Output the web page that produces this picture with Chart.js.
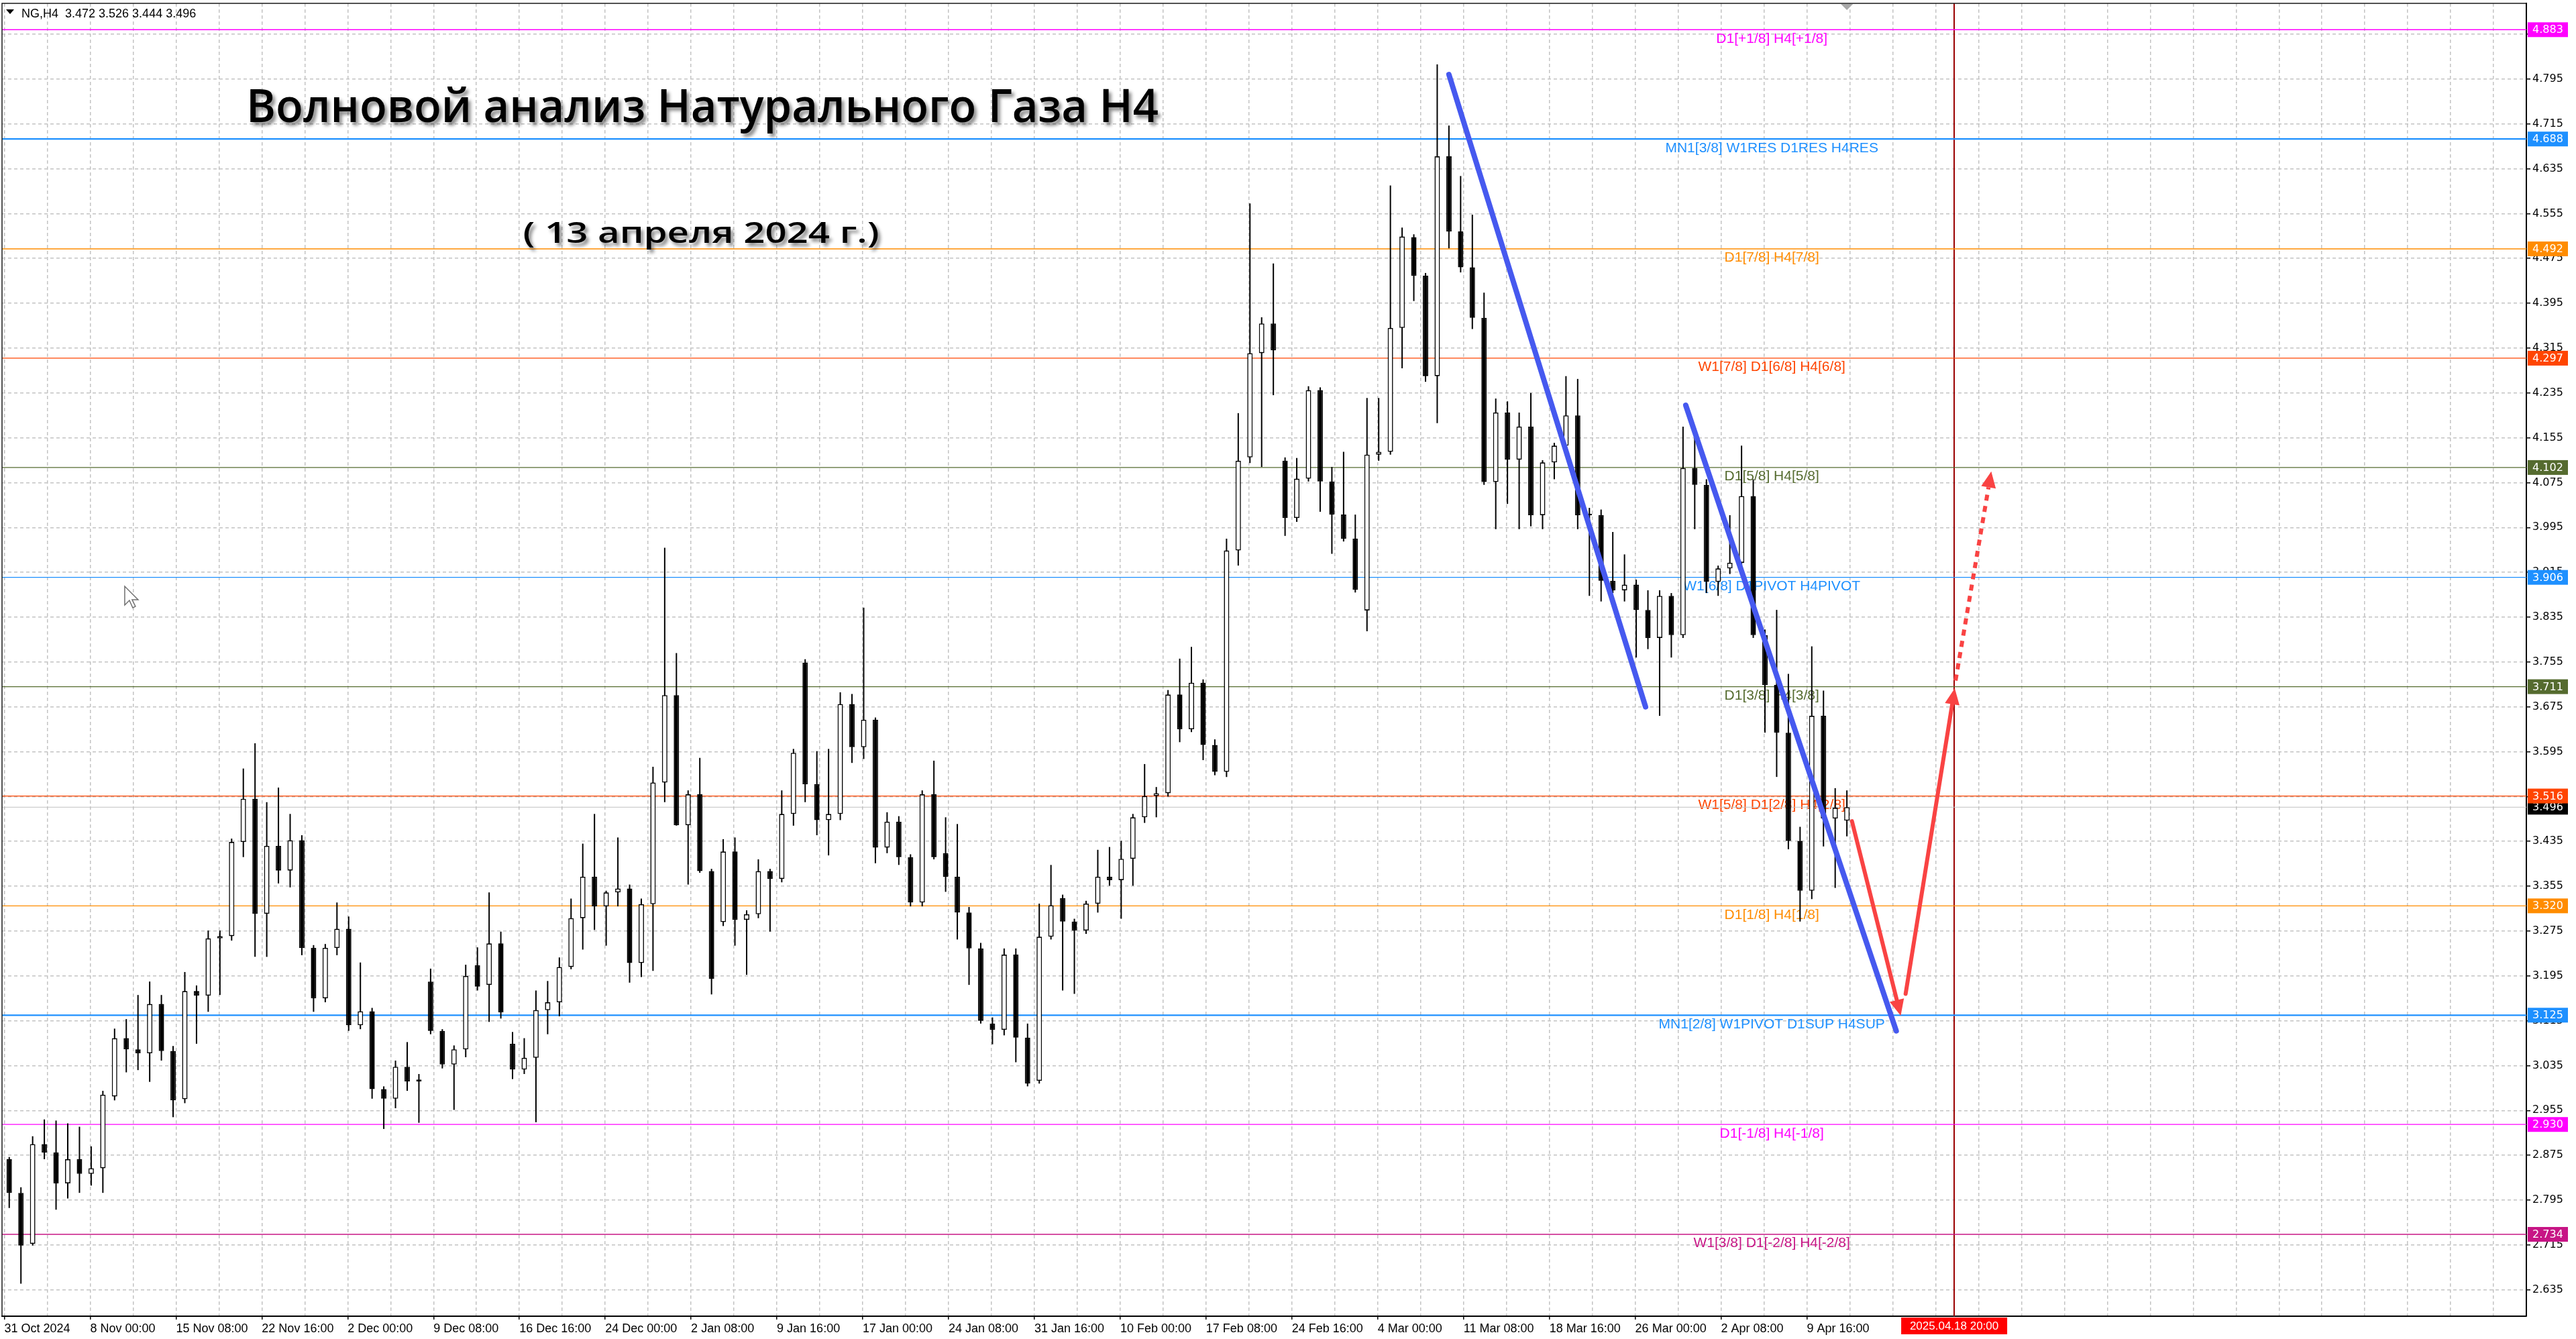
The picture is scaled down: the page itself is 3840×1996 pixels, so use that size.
<!DOCTYPE html>
<html lang="ru">
<head>
<meta charset="utf-8">
<title>NG,H4 — волновой анализ</title>
<script src="https://cdn.jsdelivr.net/npm/chart.js@4.4.1/dist/chart.umd.min.js"></script>
<style>
  html, body { margin: 0; padding: 0; background: #ffffff; }
  #wrap { width: 3840px; height: 1996px; }
</style>
</head>
<body>
<div id="wrap"><canvas id="chart" width="3840" height="1996"></canvas></div>
<script>
// NG,H4 — свечи сгруппированы по 6 баров H4 (≈ один торговый день)

const OPEN = [
  2.868, 2.808, 2.717, 2.895, 2.880, 2.825, 2.868, 2.842, 2.852, 2.980,
  3.084, 3.064, 3.057, 3.145, 3.061, 2.975, 3.168, 3.160, 3.262, 3.266,
  3.434, 3.511, 3.306, 3.427, 3.383, 3.437, 3.245, 3.155, 3.245, 3.279,
  3.107, 3.132, 2.993, 2.976, 3.033, 3.007, 3.185, 3.097, 3.037, 3.064,
  3.214, 3.179, 3.253, 3.074, 3.028, 3.049, 3.134, 3.148, 3.211, 3.298,
  3.372, 3.319, 3.344, 3.351, 3.218, 3.323, 3.540, 3.696, 3.464, 3.519,
  3.382, 3.291, 3.417, 3.295, 3.305, 3.382, 3.368, 3.484, 3.754, 3.537,
  3.473, 3.484, 3.680, 3.603, 3.652, 3.424, 3.470, 3.407, 3.326, 3.519,
  3.414, 3.372, 3.308, 3.244, 3.110, 3.099, 3.233, 3.085, 3.008, 3.265,
  3.334, 3.292, 3.276, 3.324, 3.372, 3.366, 3.404, 3.478, 3.516, 3.521,
  3.697, 3.635, 3.718, 3.607, 3.559, 3.954, 4.120, 4.306, 4.359, 4.114,
  4.012, 4.082, 4.240, 4.077, 4.018, 3.975, 3.847, 4.125, 4.130, 4.351,
  4.513, 4.444, 4.265, 4.657, 4.523, 4.459, 4.369, 4.076, 4.200, 4.116,
  4.175, 4.017, 4.111, 4.141, 4.195, 4.017, 4.017, 3.900, 3.883, 3.893,
  3.848, 3.798, 3.873, 3.803, 4.101, 4.071, 3.898, 3.922, 3.932, 4.051,
  3.803, 3.714, 3.629, 3.436, 3.347, 3.659, 3.476, 3.472
];
const HIGH = [
  2.872, 2.818, 2.909, 2.939, 2.937, 2.932, 2.926, 2.891, 2.990, 3.101,
  3.118, 3.161, 3.185, 3.161, 3.070, 3.202, 3.178, 3.276, 3.276, 3.440,
  3.565, 3.610, 3.505, 3.531, 3.484, 3.446, 3.250, 3.252, 3.326, 3.301,
  3.219, 3.138, 2.998, 3.044, 3.077, 3.020, 3.208, 3.100, 3.071, 3.215,
  3.246, 3.344, 3.274, 3.095, 3.084, 3.169, 3.186, 3.228, 3.333, 3.431,
  3.484, 3.347, 3.442, 3.358, 3.333, 3.568, 3.959, 3.771, 3.526, 3.584,
  3.386, 3.439, 3.442, 3.312, 3.403, 3.386, 3.526, 3.600, 3.760, 3.596,
  3.600, 3.701, 3.698, 3.852, 3.656, 3.487, 3.480, 3.412, 3.526, 3.579,
  3.478, 3.466, 3.318, 3.254, 3.121, 3.244, 3.244, 3.110, 3.324, 3.393,
  3.340, 3.297, 3.329, 3.420, 3.425, 3.436, 3.484, 3.573, 3.532, 3.705,
  3.761, 3.782, 3.724, 3.617, 3.975, 4.199, 4.573, 4.370, 4.466, 4.120,
  4.119, 4.247, 4.245, 4.103, 4.130, 4.018, 4.226, 4.226, 4.605, 4.530,
  4.518, 4.449, 4.821, 4.712, 4.622, 4.553, 4.414, 4.225, 4.220, 4.200,
  4.235, 4.115, 4.146, 4.265, 4.260, 4.030, 4.027, 3.987, 3.947, 3.902,
  3.883, 3.883, 3.878, 4.175, 4.175, 4.081, 3.927, 4.017, 4.141, 4.081,
  3.813, 3.848, 3.734, 3.461, 3.783, 3.704, 3.530, 3.526
];
const LOW = [
  2.781, 2.646, 2.714, 2.868, 2.778, 2.798, 2.808, 2.821, 2.808, 2.973,
  3.023, 3.027, 3.006, 3.044, 2.943, 2.968, 3.074, 3.131, 3.161, 3.258,
  3.407, 3.229, 3.229, 3.360, 3.353, 3.232, 3.131, 3.148, 3.232, 3.097,
  3.100, 2.976, 2.922, 2.959, 2.990, 2.933, 3.091, 3.030, 2.956, 3.050,
  3.169, 3.113, 3.119, 3.011, 3.020, 2.934, 3.091, 3.123, 3.207, 3.242,
  3.277, 3.249, 3.319, 3.183, 3.193, 3.204, 3.505, 3.463, 3.358, 3.379,
  3.162, 3.284, 3.249, 3.197, 3.298, 3.274, 3.362, 3.463, 3.505, 3.446,
  3.410, 3.473, 3.575, 3.582, 3.396, 3.414, 3.393, 3.319, 3.319, 3.403,
  3.345, 3.260, 3.179, 3.110, 3.073, 3.089, 3.041, 2.998, 3.003, 3.260,
  3.169, 3.163, 3.270, 3.308, 3.356, 3.297, 3.356, 3.468, 3.478, 3.515,
  3.612, 3.630, 3.580, 3.553, 3.550, 3.927, 4.110, 4.103, 4.231, 3.980,
  4.005, 4.077, 4.023, 3.948, 3.970, 3.879, 3.810, 4.114, 4.125, 4.279,
  4.399, 4.255, 4.181, 4.493, 4.450, 4.349, 4.071, 3.992, 4.037, 3.992,
  3.997, 3.992, 4.081, 4.131, 3.992, 3.873, 3.863, 3.878, 3.863, 3.763,
  3.778, 3.659, 3.763, 3.798, 3.992, 3.878, 3.873, 3.912, 3.907, 3.798,
  3.629, 3.550, 3.421, 3.292, 3.332, 3.426, 3.352, 3.444
];
const CLOSE = [
  2.808, 2.714, 2.895, 2.880, 2.825, 2.868, 2.842, 2.852, 2.983, 3.084,
  3.064, 3.057, 3.145, 3.061, 2.973, 3.168, 3.160, 3.262, 3.266, 3.434,
  3.511, 3.306, 3.427, 3.383, 3.437, 3.245, 3.155, 3.245, 3.279, 3.107,
  3.132, 2.993, 2.976, 3.033, 3.007, 3.010, 3.097, 3.037, 3.064, 3.195,
  3.176, 3.253, 3.130, 3.028, 3.049, 3.134, 3.148, 3.211, 3.298, 3.372,
  3.319, 3.344, 3.351, 3.218, 3.323, 3.540, 3.696, 3.464, 3.519, 3.382,
  3.190, 3.417, 3.295, 3.305, 3.382, 3.368, 3.484, 3.593, 3.537, 3.473,
  3.484, 3.680, 3.603, 3.652, 3.424, 3.470, 3.407, 3.326, 3.519, 3.407,
  3.372, 3.308, 3.244, 3.115, 3.099, 3.233, 3.085, 3.003, 3.265, 3.321,
  3.292, 3.276, 3.324, 3.372, 3.366, 3.404, 3.478, 3.516, 3.521, 3.697,
  3.635, 3.718, 3.607, 3.559, 3.954, 4.114, 4.306, 4.359, 4.311, 4.012,
  4.082, 4.240, 4.077, 4.018, 3.975, 3.884, 4.125, 4.130, 4.351, 4.514,
  4.444, 4.265, 4.657, 4.523, 4.459, 4.369, 4.076, 4.200, 4.116, 4.175,
  4.017, 4.111, 4.141, 4.195, 4.017, 4.017, 3.900, 3.883, 3.893, 3.848,
  3.798, 3.873, 3.803, 4.101, 4.071, 3.898, 3.922, 3.932, 4.051, 3.803,
  3.714, 3.629, 3.436, 3.347, 3.659, 3.476, 3.495, 3.496
];
const BARS_PER_CANDLE = 6;   // одна свеча на графике = 6 баров H4

// подписи оси времени (через каждые 44 бара H4)
const X_LABELS = [
  "31 Oct 2024", "8 Nov 00:00", "15 Nov 08:00", "22 Nov 16:00", "2 Dec 00:00", "9 Dec 08:00",
  "16 Dec 16:00", "24 Dec 00:00", "2 Jan 08:00", "9 Jan 16:00", "17 Jan 00:00", "24 Jan 08:00",
  "31 Jan 16:00", "10 Feb 00:00", "17 Feb 08:00", "24 Feb 16:00", "4 Mar 00:00", "11 Mar 08:00",
  "18 Mar 16:00", "26 Mar 00:00", "2 Apr 08:00", "9 Apr 16:00"
];
const X_LABEL_STEP = 44;
const X_GRID_STEP = 22;

const Y_TICKS = [
  2.635, 2.715, 2.795, 2.875, 2.955, 3.035, 3.115, 3.195, 3.275, 3.355,
  3.435, 3.515, 3.595, 3.675, 3.755, 3.835, 3.915, 3.995, 4.075, 4.155,
  4.235, 4.315, 4.395, 4.475, 4.555, 4.635, 4.715, 4.795, 4.875
];

// уровни Мюррея
const LEVELS = [4.883, 4.688, 4.492, 4.297, 4.102, 3.906, 3.711, 3.516, 3.320, 3.125, 2.930, 2.734];
const LEVEL_NAMES = [
  "D1[+1/8] H4[+1/8]",
  "MN1[3/8] W1RES D1RES H4RES",
  "D1[7/8] H4[7/8]",
  "W1[7/8] D1[6/8] H4[6/8]",
  "D1[5/8] H4[5/8]",
  "W1[6/8] D1PIVOT H4PIVOT",
  "D1[3/8] H4[3/8]",
  "W1[5/8] D1[2/8] H4[2/8]",
  "D1[1/8] H4[1/8]",
  "MN1[2/8] W1PIVOT D1SUP H4SUP",
  "D1[-1/8] H4[-1/8]",
  "W1[3/8] D1[-2/8] H4[-2/8]"
];
const LAST_PRICE = 3.496;
const LEVEL_LABEL_BAR = 906;

// разметка: синие волновые линии и красный прогноз [бар1, цена1, бар2, цена2]
const WAVE_LINES = [
  [740.5, 4.803, 841.3, 3.675],
  [861.9, 4.213, 969.8, 3.097]
];
const FORECAST = [
  [947.1, 3.471, 972.1, 3.124],
  [974.6, 3.163, 999.8, 3.708]
];
const FORECAST_DOTTED = [1000.2, 3.722, 1018.5, 4.095];
const CURSOR_BAR = 999.5;
const CURSOR_LABEL = "2025.04.18 20:00";
const MOUSE_AT = [61.7, 3.890];

const TITLE = "Волновой анализ Натурального Газа H4";
const SUBTITLE = "( 13 апреля 2024 г.)";
const SYMBOL = "NG,H4";

// ── стиль ─────────────────────────────────────────
const X_MIN = -1.2, X_MAX = 1292.8;
const Y_MIN = 2.588, Y_MAX = 4.930;
const GRID = "#c3c3c3";
const LEVEL_COLORS = ["#ff00ff", "#1e90ff", "#ff8c00", "#ff4500", "#556b2f", "#1e90ff",
                      "#556b2f", "#ff4500", "#ff8c00", "#1e90ff", "#ff00ff", "#c71585"];
const LEVEL_WIDTHS = [1.3, 2.2, 1.3, 1.3, 1.3, 1.3, 1.3, 1.3, 1.3, 2.2, 1.3, 1.6];
const BLUE = "#4659ef";
const RED = "#f94343";

const candleX = OPEN.map((_, i) => i * BARS_PER_CANDLE + 2.5);

const xTicks = [];
for (let v = 0; v <= X_MAX; v += X_GRID_STEP) xTicks.push(v);
const xLabelAt = (v) => (v % X_LABEL_STEP === 0 && v / X_LABEL_STEP < X_LABELS.length) ? X_LABELS[v / X_LABEL_STEP] : "";

const datasets = [];

LEVELS.forEach((v, i) => datasets.push({
  type: "line",
  data: [{ x: X_MIN, y: v }, { x: X_MAX, y: v }],
  borderColor: LEVEL_COLORS[i],
  borderWidth: LEVEL_WIDTHS[i],
  pointRadius: 0,
  order: 6,
}));
datasets.push({
  type: "line",
  data: [{ x: X_MIN, y: LAST_PRICE }, { x: X_MAX, y: LAST_PRICE }],
  borderColor: "#c0c0c0",
  borderWidth: 1.2,
  pointRadius: 0,
  order: 7,
});

// фитили
datasets.push({
  type: "bar",
  data: candleX.map((x, i) => ({ x, y: [LOW[i], HIGH[i]] })),
  backgroundColor: "#000000",
  borderWidth: 0,
  grouped: false,
  maxBarThickness: 2,
  order: 4,
});
// тела
datasets.push({
  type: "bar",
  data: candleX.map((x, i) => ({ x, y: [OPEN[i], CLOSE[i]] })),
  backgroundColor: (c) => CLOSE[c.dataIndex] >= OPEN[c.dataIndex] ? "#ffffff" : "#000000",
  borderColor: "#000000",
  borderWidth: 1.6,
  borderSkipped: false,
  grouped: false,
  maxBarThickness: 8,
  minBarLength: 2,
  order: 3,
});

WAVE_LINES.forEach((l) => datasets.push({
  type: "line",
  data: [{ x: l[0], y: l[1] }, { x: l[2], y: l[3] }],
  borderColor: BLUE,
  borderWidth: 8,
  borderCapStyle: "round",
  pointRadius: 0,
  order: 1,
}));

function drawArrow(ctx, x1, y1, x2, y2, dashed) {
  const ang = Math.atan2(y2 - y1, x2 - x1);
  const headLen = 24, half = 11;
  const bx = x2 - headLen * Math.cos(ang), by = y2 - headLen * Math.sin(ang);
  ctx.strokeStyle = RED;
  ctx.fillStyle = RED;
  ctx.lineWidth = 6;
  ctx.lineCap = dashed ? "butt" : "round";
  ctx.setLineDash(dashed ? [9, 8] : []);
  ctx.beginPath();
  ctx.moveTo(x1, y1);
  ctx.lineTo(bx, by);
  ctx.stroke();
  ctx.setLineDash([]);
  ctx.beginPath();
  ctx.moveTo(x2, y2);
  ctx.lineTo(bx + half * Math.sin(ang), by - half * Math.cos(ang));
  ctx.lineTo(bx - half * Math.sin(ang), by + half * Math.cos(ang));
  ctx.closePath();
  ctx.fill();
}

function fitText(ctx, text, cx, baseline, width) {
  const w = ctx.measureText(text).width;
  ctx.save();
  ctx.translate(cx, baseline);
  ctx.scale(width / w, 1);
  ctx.textAlign = "center";
  ctx.textBaseline = "alphabetic";
  ctx.fillText(text, 0, 0);
  ctx.restore();
}

const overlay = {
  id: "ngOverlay",
  beforeDatasetsDraw(chart) {
    const { ctx, chartArea: a, scales: { x, y } } = chart;
    ctx.save();
    // подписи уровней
    ctx.font = '21px "Liberation Sans", Arial, sans-serif';
    ctx.textAlign = "center";
    ctx.textBaseline = "top";
    const lx = x.getPixelForValue(LEVEL_LABEL_BAR);
    LEVELS.forEach((v, i) => {
      ctx.fillStyle = LEVEL_COLORS[i];
      ctx.fillText(LEVEL_NAMES[i], lx, y.getPixelForValue(v) + 3);
    });
    // вертикальная линия курсора
    const cx = Math.round(x.getPixelForValue(CURSOR_BAR));
    ctx.strokeStyle = "#9a0000";
    ctx.lineWidth = 2;
    ctx.beginPath();
    ctx.moveTo(cx, a.top);
    ctx.lineTo(cx, a.bottom);
    ctx.stroke();
    ctx.restore();
  },
  afterDatasetsDraw(chart) {
    const { ctx, scales: { x, y } } = chart;
    ctx.save();
    FORECAST.forEach((f) => drawArrow(ctx, x.getPixelForValue(f[0]), y.getPixelForValue(f[1]),
      x.getPixelForValue(f[2]), y.getPixelForValue(f[3]), false));
    const d = FORECAST_DOTTED;
    drawArrow(ctx, x.getPixelForValue(d[0]), y.getPixelForValue(d[1]),
      x.getPixelForValue(d[2]), y.getPixelForValue(d[3]), true);
    ctx.restore();
  },
  afterDraw(chart) {
    const { ctx, chartArea: a, scales: { x, y } } = chart;
    ctx.save();

    // рамка сверху и слева
    ctx.strokeStyle = "#1a1a1a";
    ctx.lineWidth = 1.5;
    ctx.beginPath();
    ctx.moveTo(a.left, a.bottom);
    ctx.lineTo(a.left, a.top);
    ctx.lineTo(a.right, a.top);
    ctx.stroke();

    // метка сдвига графика
    const sx = x.getPixelForValue(candleX[candleX.length - 1]);
    ctx.fillStyle = "#a8a8a8";
    ctx.beginPath();
    ctx.moveTo(sx - 9, a.top + 1);
    ctx.lineTo(sx + 9, a.top + 1);
    ctx.lineTo(sx, a.top + 10);
    ctx.closePath();
    ctx.fill();

    // плашки цен на правой шкале
    ctx.font = '16px "DejaVu Sans", Verdana, sans-serif';
    ctx.textAlign = "left";
    ctx.textBaseline = "middle";
    const box = (v, color) => {
      const py = y.getPixelForValue(v);
      ctx.fillStyle = color;
      ctx.fillRect(a.right + 2, py - 11, 60, 22);
      ctx.fillStyle = "#ffffff";
      ctx.fillText(v.toFixed(3), a.right + 9, py + 1);
    };
    box(LAST_PRICE, "#000000");
    LEVELS.forEach((v, i) => box(v, LEVEL_COLORS[i]));

    // дата курсора
    const cx = x.getPixelForValue(CURSOR_BAR);
    ctx.fillStyle = "#ff0000";
    ctx.fillRect(cx - 79, a.bottom + 2, 158, 25);
    ctx.fillStyle = "#ffffff";
    ctx.font = '17px "Liberation Sans", Arial, sans-serif';
    ctx.textAlign = "center";
    ctx.fillText(CURSOR_LABEL, cx, a.bottom + 15);

    // заголовок окна
    ctx.fillStyle = "#000000";
    ctx.beginPath();
    ctx.moveTo(9, 14);
    ctx.lineTo(21, 14);
    ctx.lineTo(15, 21);
    ctx.closePath();
    ctx.fill();
    ctx.font = '18px "Liberation Sans", Arial, sans-serif';
    ctx.textAlign = "left";
    ctx.textBaseline = "alphabetic";
    const last = OPEN.length - 1;
    const ohlc = [OPEN[last], HIGH[last], LOW[last], CLOSE[last]].map((v) => v.toFixed(3)).join(" ");
    ctx.fillText(SYMBOL + "  " + ohlc, 32, 26);

    // курсор мыши
    const mx = x.getPixelForValue(MOUSE_AT[0]), my = y.getPixelForValue(MOUSE_AT[1]);
    const pts = [[0, 0], [0, 28], [7, 21], [12, 32], [16, 30], [11, 20], [20, 20]];
    ctx.beginPath();
    pts.forEach((p, i) => (i ? ctx.lineTo(mx + p[0], my + p[1]) : ctx.moveTo(mx + p[0], my + p[1])));
    ctx.closePath();
    ctx.fillStyle = "#ffffff";
    ctx.fill();
    ctx.strokeStyle = "#707070";
    ctx.lineWidth = 1.5;
    ctx.stroke();

    // надписи с тенью
    ctx.shadowColor = "rgba(0,0,0,0.45)";
    ctx.shadowOffsetX = 4;
    ctx.shadowOffsetY = 5;
    ctx.shadowBlur = 5;
    ctx.fillStyle = "#000000";
    ctx.font = '600 68px "Open Sans", "Noto Sans", sans-serif';
    fitText(ctx, TITLE, 1047, 182, 1360);
    ctx.font = '600 44px "Open Sans", "Noto Sans", sans-serif';
    fitText(ctx, SUBTITLE, 1045, 362, 531);
    ctx.restore();
  },
};

new Chart(document.getElementById("chart"), {
  type: "bar",
  data: { datasets },
  options: {
    responsive: false,
    devicePixelRatio: 1,
    animation: false,
    events: [],
    layout: { padding: { left: 3, top: 5, right: 0, bottom: 0 } },
    plugins: { legend: { display: false }, tooltip: { enabled: false } },
    scales: {
      x: {
        type: "linear",
        position: "bottom",
        min: X_MIN,
        max: X_MAX,
        offset: false,
        afterBuildTicks: (s) => { s.ticks = xTicks.map((v) => ({ value: v })); },
        afterFit: (s) => { s.height = 34; s.paddingLeft = 0; s.paddingRight = 0; },
        grid: {
          offset: false,
          color: GRID,
          lineWidth: 1.5,
          drawTicks: true,
          tickLength: 5,
          tickWidth: 1.5,
          tickColor: (c) => (c.tick && xLabelAt(c.tick.value)) ? "#000000" : "rgba(0,0,0,0)",
        },
        border: { display: true, color: "#000000", width: 2, dash: [5, 4] },
        ticks: {
          autoSkip: false,
          maxRotation: 0,
          minRotation: 0,
          align: "start",
          padding: 3,
          color: "#000000",
          font: { family: '"Liberation Sans", Arial, sans-serif', size: 18 },
          callback: (v) => xLabelAt(v),
        },
      },
      y: {
        type: "linear",
        position: "right",
        min: Y_MIN,
        max: Y_MAX,
        afterBuildTicks: (s) => { s.ticks = Y_TICKS.map((v) => ({ value: v })); },
        afterFit: (s) => { s.width = 74; s.paddingTop = 0; s.paddingBottom = 0; },
        grid: {
          color: GRID,
          lineWidth: 1.5,
          drawTicks: true,
          tickLength: 6,
          tickWidth: 1.5,
          tickColor: "#000000",
        },
        border: { display: true, color: "#000000", width: 2, dash: [5, 4] },
        ticks: {
          padding: 3,
          color: "#000000",
          font: { family: '"DejaVu Sans", Verdana, sans-serif', size: 16 },
          callback: (v) => Number(v).toFixed(3),
        },
      },
    },
  },
  plugins: [overlay],
});
</script>
</body>
</html>
